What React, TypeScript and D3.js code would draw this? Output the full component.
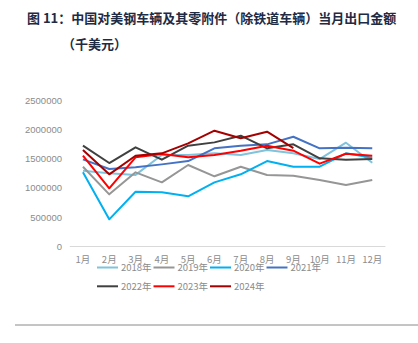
import React from "react";
import * as d3 from "d3";

const months = ["1月","2月","3月","4月","5月","6月","7月","8月","9月","10月","11月","12月"];
const yTicks = [0, 500000, 1000000, 1500000, 2000000, 2500000];

const s2018 = [1290000,1247000,1220000,1560000,1560000,1589000,1560000,1645000,1589000,1491000,1770000,1428000];
const s2019 = [1360000,888000,1264000,1093000,1389000,1196000,1360000,1218000,1206000,1133000,1047000,1133000];
const s2020 = [1264000,461000,933000,922000,854000,1093000,1230000,1457000,1360000,1360000,1589000,1514000];
const s2021 = [1486000,1320000,1349000,1400000,1457000,1674000,1719000,1742000,1872000,1674000,1685000,1674000];
const s2022 = [1719000,1423000,1691000,1480000,1719000,1776000,1890000,1674000,1742000,1503000,1480000,1491000];
const s2023 = [1548000,991000,1520000,1577000,1520000,1560000,1634000,1719000,1634000,1412000,1582000,1548000];
const s2024 = [1645000,1230000,1548000,1589000,1759000,1975000,1845000,1958000,1679000];

const seriesNames = ["2018年","2019年","2020年","2021年","2022年","2023年","2024年"];
const seriesData = [s2018, s2019, s2020, s2021, s2022, s2023, s2024];
const seriesColors = ["#7fc3dc","#969696","#00b0f0","#4472c4","#404040","#ff0000","#a50000"];

export default function App() {
  const W = 418, H = 343;
  const x = d3.scaleBand<string>().domain(months).range([69.8, 385.4]);
  const y = d3.scaleLinear().domain([0, 2500000]).range([246.3, 100]);
  const line = d3.line<number>()
    .x((_, i) => (x(months[i]) as number) + x.bandwidth() / 2)
    .y((d) => y(d));
  const fontCJK = "'Noto Sans CJK SC', sans-serif";
  const order = [0, 1, 2, 3, 4, 5, 6];
  return (
    <svg width={W} height={H} style={{ position: "absolute", left: 0, top: 0, background: "#fff" }}>
      <text x={27} y={23} fontFamily={fontCJK} fontWeight="bold" fontSize={13} fill="#1f2a44">
        图 11：中国对美钢车辆及其零附件（除铁道车辆）当月出口金额
      </text>
      <text x={62} y={49} fontFamily={fontCJK} fontWeight="bold" fontSize={13} fill="#1f2a44">
        （千美元）
      </text>
      {yTicks.map((t) => (
        <text key={t} x={62} y={y(t) + 3.5} textAnchor="end" fontFamily="Arial, 'Liberation Sans', sans-serif" fontSize={9.5} fill="#8c8c8c">
          {t}
        </text>
      ))}
      <line x1={69.8} x2={385.4} y1={246.5} y2={246.5} stroke="#d9d9d9" strokeWidth={1} />
      {months.map((m) => (
        <text key={m} x={(x(m) as number) + x.bandwidth() / 2} y={263} textAnchor="middle" fontFamily={fontCJK} fontSize={9.5} fill="#8c8c8c">
          {m}
        </text>
      ))}
      {order.map((i) => (
        <path key={i} d={line(seriesData[i]) || ""} fill="none" stroke={seriesColors[i]} strokeWidth={2} strokeLinejoin="round" />
      ))}
      {seriesNames.map((n, i) => {
        const col = i % 4, row = Math.floor(i / 4);
        const lx = 97 + col * 56.5;
        const ly = 267.5 + row * 18.8;
        return (
          <g key={n}>
            <line x1={lx} x2={lx + 21} y1={ly} y2={ly} stroke={seriesColors[i]} strokeWidth={2} />
            <text x={lx + 24} y={ly + 3.5} fontFamily={fontCJK} fontSize={9.5} fill="#8c8c8c">{n}</text>
          </g>
        );
      })}
      <line x1={15} x2={418} y1={325} y2={325} stroke="#8a8a8a" strokeWidth={1} />
    </svg>
  );
}
